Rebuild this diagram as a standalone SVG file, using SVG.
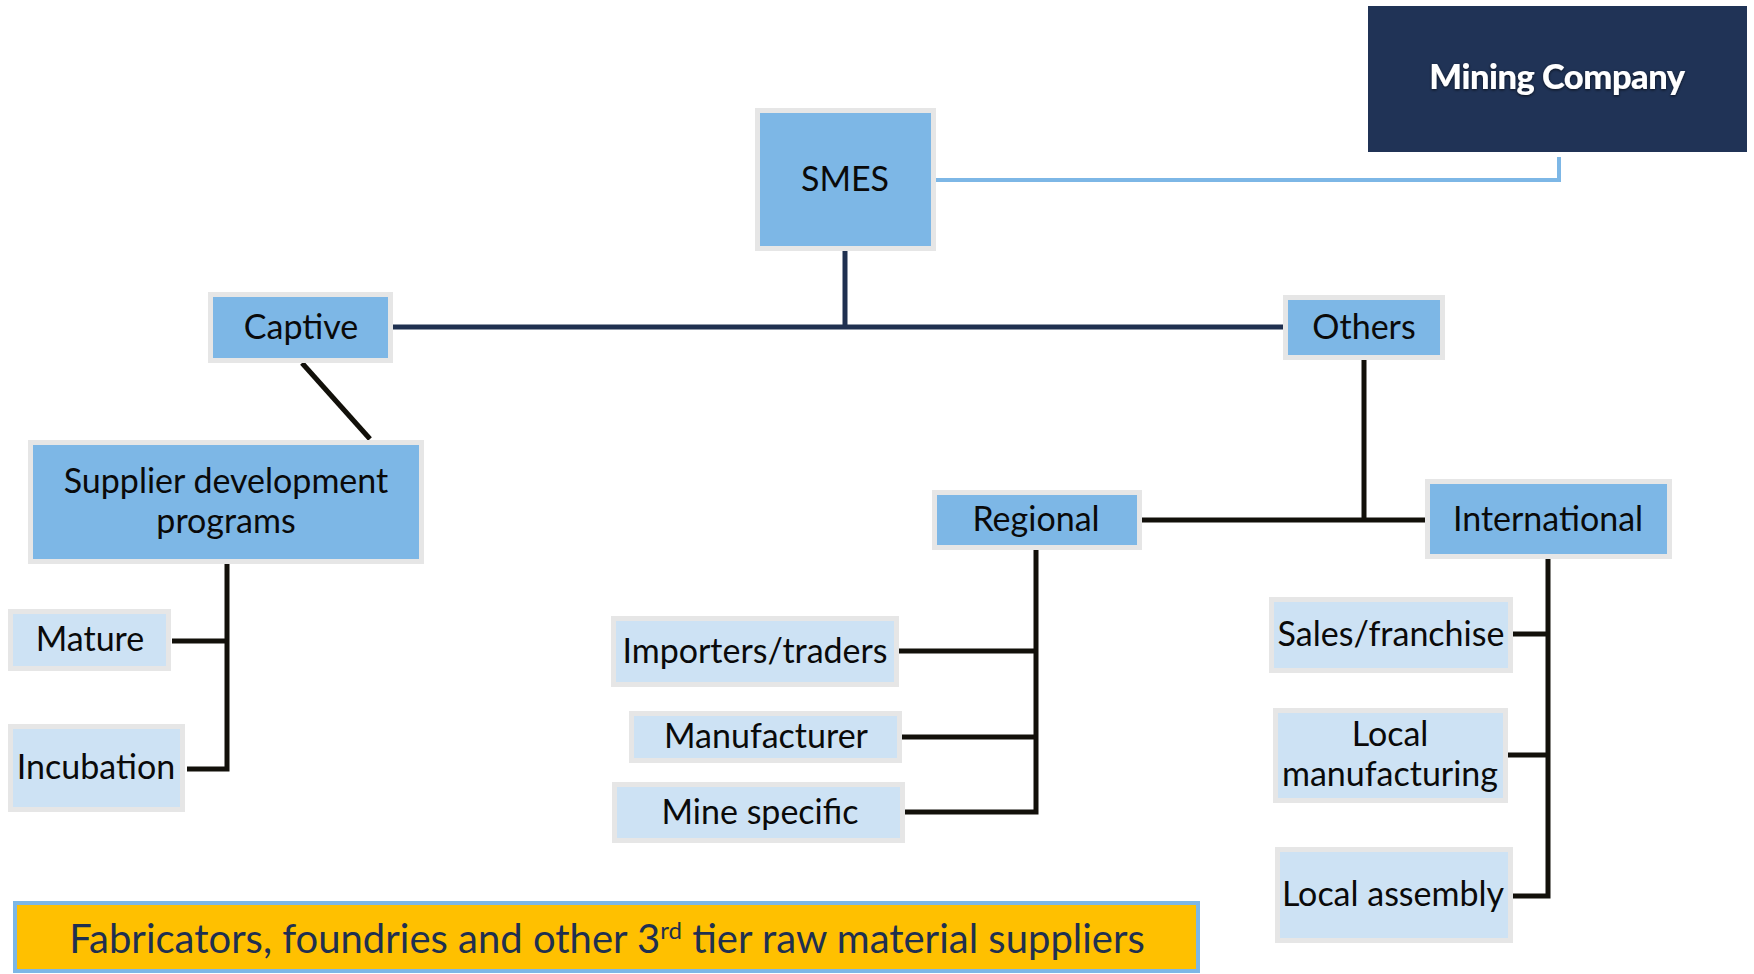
<svg xmlns="http://www.w3.org/2000/svg" width="1754" height="974" viewBox="0 0 1754 974">
<style>
.n{stroke:#e6e6e6;stroke-width:5}
.dk{fill:#7db7e6}
.lt{fill:#cde2f4}
.t{font-family:Lato,"Liberation Sans",sans-serif;font-size:34px;fill:#0a0a0a;text-anchor:middle}
.k{fill:none;stroke:#12100a;stroke-width:5}
.nv{fill:none;stroke:#1f3050;stroke-width:5}
.lb{fill:none;stroke:#7db7e6;stroke-width:4}
</style>
<defs>
<filter id="sh" x="-10%" y="-30%" width="120%" height="160%">
<feDropShadow dx="0" dy="1" stdDeviation="1.5" flood-color="#000" flood-opacity="0.7"/>
</filter>
</defs>
<rect width="1754" height="974" fill="#fff"/>
<g id="connectors">
<polyline class="lb" points="936,180 1559,180 1559,157"/>
<line class="nv" x1="845" y1="251" x2="845" y2="329"/>
<line class="nv" x1="393" y1="327" x2="1283" y2="327"/>
<line class="k" x1="302" y1="363" x2="370" y2="439"/>
<polyline class="k" points="227,564 227,769 187,769"/>
<line class="k" x1="172" y1="641" x2="227" y2="641"/>
<polyline class="k" points="1364,360 1364,520"/>
<line class="k" x1="1142" y1="520" x2="1425" y2="520"/>
<polyline class="k" points="1036,550 1036,812 905,812"/>
<line class="k" x1="899" y1="651" x2="1036" y2="651"/>
<line class="k" x1="902" y1="737" x2="1036" y2="737"/>
<polyline class="k" points="1548,559 1548,896 1513,896"/>
<line class="k" x1="1513" y1="634" x2="1548" y2="634"/>
<line class="k" x1="1508" y1="755" x2="1548" y2="755"/>
</g>
<g id="mining">
<rect x="1368" y="6" width="379" height="146" fill="#203356"/>
<text x="1557" y="89" style="font-family:Lato,'Liberation Sans',sans-serif;font-size:34.5px;font-weight:900;fill:#fff;text-anchor:middle;letter-spacing:-0.5px" filter="url(#sh)">Mining Company</text>
</g>
<g id="smes"><rect class="n dk" x="757.5" y="110.5" width="176" height="138"/><text class="t" x="845" y="191">SMES</text></g>
<g id="captive"><rect class="n dk" x="210.5" y="294.5" width="180" height="66"/><text class="t" x="301" y="339">Captive</text></g>
<g id="others"><rect class="n dk" x="1285.5" y="297.5" width="157" height="60"/><text class="t" x="1364" y="339">Others</text></g>
<g id="supplier"><rect class="n dk" x="30.5" y="442.5" width="391" height="119"/><text class="t" x="226" y="493">Supplier development</text><text class="t" x="226" y="533">programs</text></g>
<g id="mature"><rect class="n lt" x="10.5" y="611.5" width="158" height="57"/><text class="t" x="90" y="651">Mature</text></g>
<g id="incubation"><rect class="n lt" x="10.5" y="726.5" width="172" height="83"/><text class="t" x="96" y="779">Incubation</text></g>
<g id="regional"><rect class="n dk" x="934.5" y="492.5" width="205" height="55"/><text class="t" x="1036" y="531">Regional</text></g>
<g id="international"><rect class="n dk" x="1427.5" y="481.5" width="242" height="75"/><text class="t" x="1548" y="531">International</text></g>
<g id="importers"><rect class="n lt" x="613.5" y="618.5" width="283" height="66"/><text class="t" x="755" y="663">Importers/traders</text></g>
<g id="manufacturer"><rect class="n lt" x="631.5" y="713.5" width="268" height="47"/><text class="t" x="766" y="748">Manufacturer</text></g>
<g id="minespecific"><rect class="n lt" x="614.5" y="784.5" width="288" height="56"/><text class="t" x="760" y="824">Mine specific</text></g>
<g id="sales"><rect class="n lt" x="1271.5" y="599.5" width="239" height="71"/><text class="t" x="1391" y="646">Sales/franchise</text></g>
<g id="localmfg"><rect class="n lt" x="1275.5" y="710.5" width="230" height="90"/><text class="t" x="1390" y="746">Local</text><text class="t" x="1390" y="786">manufacturing</text></g>
<g id="localasm"><rect class="n lt" x="1277.5" y="849.5" width="233" height="91"/><text class="t" x="1393" y="906">Local assembly</text></g>
<g id="tier3"><rect x="15" y="903" width="1183" height="68" fill="#ffc000" stroke="#7db7e6" stroke-width="4"/><text x="607" y="953" style="font-family:Lato,'Liberation Sans',sans-serif;font-size:40px;fill:#1f3050;text-anchor:middle">Fabricators, foundries and other 3<tspan dy="-14" font-size="24">rd</tspan><tspan dy="14"> tier raw material suppliers</tspan></text></g>
</svg>
